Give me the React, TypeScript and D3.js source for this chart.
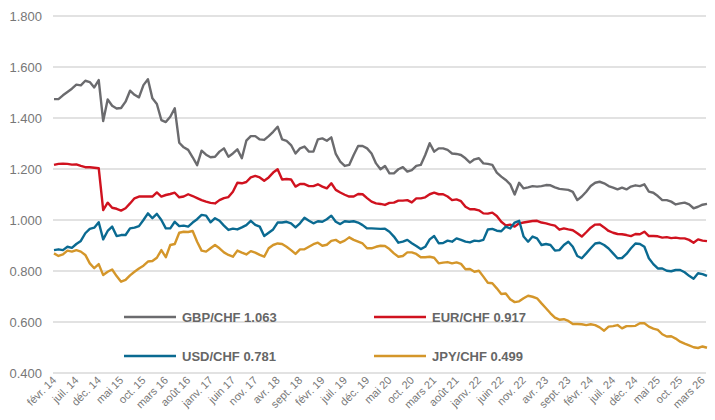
import React from "react";
import * as d3 from "d3";

const GBP = [
  1.474, 1.474, 1.489, 1.502, 1.515, 1.531, 1.528, 1.546, 1.541, 1.520, 1.549, 1.388, 1.473, 1.448, 1.437, 1.439, 1.464, 1.507, 1.491, 1.481, 1.529, 1.552, 1.477, 1.455, 1.392, 1.384, 1.405, 1.438, 1.303, 1.285,
  1.275, 1.246, 1.215, 1.272, 1.256, 1.246, 1.248, 1.268, 1.281, 1.248, 1.261, 1.277, 1.242, 1.311, 1.329, 1.329, 1.316, 1.314, 1.329, 1.346, 1.366, 1.316, 1.310, 1.294, 1.261, 1.281, 1.288, 1.268, 1.268,
  1.316, 1.320, 1.311, 1.324, 1.259, 1.229, 1.212, 1.216, 1.255, 1.290, 1.290, 1.281, 1.261, 1.222, 1.199, 1.212, 1.183, 1.183, 1.199, 1.207, 1.190, 1.196, 1.212, 1.216, 1.255, 1.301, 1.268, 1.281, 1.281,
  1.275, 1.261, 1.259, 1.255, 1.242, 1.225, 1.238, 1.242, 1.222, 1.220, 1.216, 1.186, 1.170, 1.157, 1.140, 1.100, 1.146, 1.124, 1.128, 1.133, 1.131, 1.133, 1.137, 1.136, 1.128, 1.122, 1.120, 1.118, 1.110,
  1.078, 1.092, 1.111, 1.133, 1.146, 1.150, 1.144, 1.133, 1.127, 1.120, 1.127, 1.120, 1.131, 1.136, 1.133, 1.140, 1.111, 1.107, 1.094, 1.078, 1.078, 1.072, 1.061, 1.065, 1.068, 1.061, 1.046, 1.052, 1.060, 1.063,
];

const EUR = [
  1.216, 1.220, 1.221, 1.220, 1.217, 1.218, 1.212, 1.207, 1.207, 1.205, 1.203, 1.039, 1.068, 1.048, 1.044, 1.037, 1.046, 1.065, 1.085, 1.092, 1.092, 1.092, 1.092, 1.108, 1.092, 1.098, 1.102, 1.107, 1.089, 1.092,
  1.101, 1.094, 1.086, 1.078, 1.072, 1.067, 1.065, 1.078, 1.086, 1.090, 1.111, 1.146, 1.144, 1.149, 1.167, 1.173, 1.167, 1.154, 1.167, 1.186, 1.199, 1.159, 1.161, 1.159, 1.131, 1.141, 1.141, 1.133, 1.133,
  1.140, 1.131, 1.124, 1.144, 1.118, 1.108, 1.099, 1.092, 1.092, 1.102, 1.101, 1.086, 1.072, 1.065, 1.063, 1.059, 1.067, 1.068, 1.076, 1.076, 1.078, 1.069, 1.085, 1.085, 1.089, 1.101, 1.107, 1.101, 1.101,
  1.092, 1.078, 1.081, 1.074, 1.052, 1.042, 1.042, 1.038, 1.026, 1.025, 1.029, 1.016, 0.993, 0.979, 0.982, 0.974, 0.987, 0.990, 0.993, 0.996, 0.997, 0.990, 0.987, 0.982, 0.978, 0.962, 0.967, 0.963, 0.960,
  0.948, 0.935, 0.952, 0.970, 0.982, 0.983, 0.971, 0.957, 0.950, 0.945, 0.944, 0.941, 0.937, 0.945, 0.944, 0.954, 0.937, 0.937, 0.936, 0.931, 0.933, 0.929, 0.931, 0.928, 0.928, 0.922, 0.911, 0.924, 0.919, 0.917,
];

const USD = [
  0.882, 0.885, 0.882, 0.895, 0.891, 0.906, 0.918, 0.948, 0.965, 0.970, 0.991, 0.924, 0.957, 0.974, 0.937, 0.941, 0.941, 0.967, 0.970, 0.976, 1.000, 1.026, 1.007, 1.024, 1.000, 0.967, 0.967, 0.993, 0.976, 0.978,
  0.974, 0.990, 1.003, 1.020, 1.017, 0.991, 1.007, 0.997, 0.978, 0.961, 0.966, 0.963, 0.971, 0.980, 0.997, 0.981, 0.974, 0.937, 0.950, 0.963, 0.990, 0.990, 0.993, 0.987, 0.971, 0.987, 1.009, 0.997, 0.987,
  0.995, 0.993, 1.003, 1.017, 0.993, 0.984, 0.995, 0.993, 0.995, 0.990, 0.980, 0.967, 0.967, 0.966, 0.965, 0.966, 0.954, 0.935, 0.911, 0.915, 0.922, 0.909, 0.898, 0.886, 0.895, 0.924, 0.937, 0.909, 0.910,
  0.919, 0.915, 0.928, 0.922, 0.915, 0.912, 0.919, 0.917, 0.922, 0.963, 0.965, 0.958, 0.956, 0.974, 0.967, 0.990, 0.997, 0.935, 0.915, 0.935, 0.928, 0.902, 0.906, 0.902, 0.880, 0.882, 0.902, 0.915, 0.895,
  0.859, 0.850, 0.869, 0.889, 0.908, 0.911, 0.902, 0.888, 0.869, 0.850, 0.851, 0.867, 0.889, 0.908, 0.906, 0.895, 0.850, 0.827, 0.810, 0.810, 0.801, 0.799, 0.804, 0.804, 0.795, 0.781, 0.770, 0.791, 0.788, 0.781,
];

const JPY = [
  0.869, 0.859, 0.865, 0.880, 0.876, 0.882, 0.876, 0.863, 0.830, 0.811, 0.827, 0.784, 0.797, 0.806, 0.780, 0.758, 0.765, 0.783, 0.797, 0.810, 0.821, 0.837, 0.839, 0.852, 0.882, 0.854, 0.902, 0.906, 0.950, 0.954,
  0.953, 0.957, 0.915, 0.880, 0.876, 0.889, 0.902, 0.889, 0.873, 0.863, 0.856, 0.880, 0.872, 0.865, 0.878, 0.872, 0.863, 0.856, 0.889, 0.902, 0.908, 0.906, 0.895, 0.882, 0.867, 0.885, 0.885, 0.895, 0.905,
  0.911, 0.899, 0.903, 0.918, 0.922, 0.911, 0.919, 0.932, 0.922, 0.915, 0.908, 0.889, 0.889, 0.895, 0.899, 0.898, 0.886, 0.869, 0.856, 0.859, 0.873, 0.873, 0.867, 0.854, 0.854, 0.856, 0.852, 0.830, 0.833,
  0.835, 0.830, 0.834, 0.828, 0.807, 0.808, 0.797, 0.801, 0.778, 0.754, 0.752, 0.732, 0.710, 0.712, 0.689, 0.678, 0.681, 0.693, 0.703, 0.699, 0.693, 0.673, 0.654, 0.634, 0.617, 0.609, 0.611, 0.604, 0.592,
  0.592, 0.591, 0.588, 0.591, 0.588, 0.579, 0.566, 0.582, 0.584, 0.588, 0.575, 0.584, 0.584, 0.585, 0.595, 0.595, 0.582, 0.574, 0.569, 0.552, 0.543, 0.544, 0.535, 0.523, 0.515, 0.508, 0.501, 0.498, 0.504, 0.499,
];

const TICK_LABELS = [
  "févr. 14", "juil. 14", "déc. 14", "mai 15", "oct. 15", "mars 16", "août 16", "janv. 17", "juin 17", "nov. 17",
  "avr. 18", "sept. 18", "févr. 19", "juil. 19", "déc. 19", "mai 20", "oct. 20", "mars 21", "août 21", "janv. 22",
  "juin 22", "nov. 22", "avr. 23", "sept. 23", "févr. 24", "juil. 24", "déc. 24", "mai 25", "oct. 25", "mars 26",
];
const TICK_STEP = 5;

const Y_TICKS = [0.4, 0.6, 0.8, 1.0, 1.2, 1.4, 1.6, 1.8];

const SERIES_NAMES = ["GBP/CHF 1.063", "EUR/CHF 0.917", "USD/CHF 0.781", "JPY/CHF 0.499"];
const SERIES_COLORS = ["#6b6b6e", "#d0121f", "#0a6a91", "#d4962a"];

const W = 715;
const H = 420;
const M = { left: 54, right: 707, top: 16, bottom: 373 };
const FONT = "'Liberation Sans', Arial, sans-serif";

export default function App() {
  const data = [GBP, EUR, USD, JPY];
  const n = GBP.length;
  const x = d3.scaleLinear().domain([0, n - 1]).range([M.left, M.right]);
  const y = d3.scaleLinear().domain([0.4, 1.8]).range([M.bottom, M.top]);
  const line = d3
    .line<number>()
    .x((_, i) => x(i))
    .y((d) => y(d));

  const legendPos = [
    { lx: 124, ty: 317 },
    { lx: 374, ty: 317 },
    { lx: 124, ty: 356 },
    { lx: 374, ty: 356 },
  ];

  return (
    <svg
      width={W}
      height={H}
      style={{ position: "absolute", left: 0, top: 0, background: "#fff" }}
      fontFamily={FONT}
    >
      {Y_TICKS.map((t) => (
        <g key={t}>
          <line x1={M.left - 1} x2={M.right - 1} y1={y(t)} y2={y(t)} stroke="#d9d9d9" strokeWidth={1.5} />
          <text x={42} y={y(t)} dy="0.35em" textAnchor="end" fontSize={13} fill="#777">
            {d3.format(".3f")(t)}
          </text>
        </g>
      ))}
      {TICK_LABELS.map((lab, k) => {
        const px = x(k * TICK_STEP);
        return (
          <text
            key={lab}
            transform={`translate(${px + 3},${M.bottom + 8}) rotate(-45)`}
            textAnchor="end"
            fontSize={11}
            fill="#777"
          >
            {lab}
          </text>
        );
      })}
      {data.map((s, k) => (
        <path
          key={k}
          d={line(s) || ""}
          fill="none"
          stroke={SERIES_COLORS[k]}
          strokeWidth={2.4}
          strokeLinejoin="round"
        />
      ))}
      {SERIES_NAMES.map((name, k) => (
        <g key={name}>
          <line
            x1={legendPos[k].lx}
            x2={legendPos[k].lx + 52}
            y1={legendPos[k].ty}
            y2={legendPos[k].ty}
            stroke={SERIES_COLORS[k]}
            strokeWidth={2.5}
          />
          <text
            x={legendPos[k].lx + 58}
            y={legendPos[k].ty}
            dy="0.35em"
            fontSize={13}
            fontWeight="bold"
            fill="#666"
          >
            {name}
          </text>
        </g>
      ))}
    </svg>
  );
}
